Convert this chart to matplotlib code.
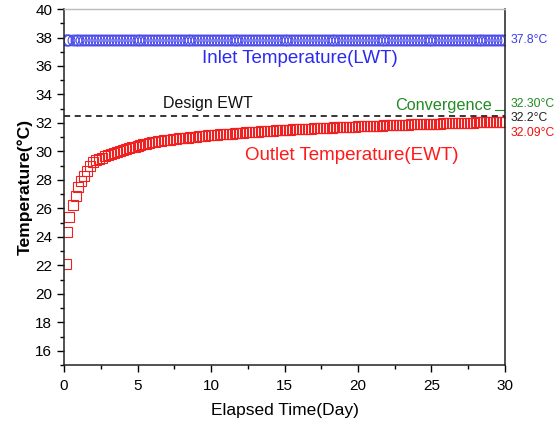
import matplotlib
matplotlib.use("Agg")
import matplotlib.pyplot as plt
from matplotlib.ticker import MultipleLocator

plt.rcParams['font.family'] = ['Liberation Sans', 'DejaVu Sans']

# ---- data ----
time_days = [0.14, 0.22, 0.36, 0.59, 0.80, 0.97, 1.16, 1.34, 1.54, 1.74, 1.95,
             2.2, 2.4, 2.6, 2.8, 3.0, 3.2, 3.4, 3.6, 3.8, 4.0,
             4.2, 4.4, 4.6, 4.8, 5.0, 5.2, 5.4, 5.6, 5.8, 6.0,
             6.2, 6.4, 6.6, 6.8, 7.0, 7.2, 7.4, 7.6, 7.8, 8.0,
             8.2, 8.4, 8.6, 8.8, 9.0, 9.2, 9.4, 9.6, 9.8, 10.0,
             10.2, 10.4, 10.6, 10.8, 11.0, 11.2, 11.4, 11.6, 11.8, 12.0,
             12.2, 12.4, 12.6, 12.8, 13.0, 13.2, 13.4, 13.6, 13.8, 14.0,
             14.2, 14.4, 14.6, 14.8, 15.0, 15.2, 15.4, 15.6, 15.8, 16.0,
             16.2, 16.4, 16.6, 16.8, 17.0, 17.2, 17.4, 17.6, 17.8, 18.0,
             18.2, 18.4, 18.6, 18.8, 19.0, 19.2, 19.4, 19.6, 19.8, 20.0,
             20.2, 20.4, 20.6, 20.8, 21.0, 21.2, 21.4, 21.6, 21.8, 22.0,
             22.2, 22.4, 22.6, 22.8, 23.0, 23.2, 23.4, 23.6, 23.8, 24.0,
             24.2, 24.4, 24.6, 24.8, 25.0, 25.2, 25.4, 25.6, 25.8, 26.0,
             26.2, 26.4, 26.6, 26.8, 27.0, 27.2, 27.4, 27.6, 27.8, 28.0,
             28.2, 28.4, 28.6, 28.8, 29.0, 29.2, 29.4, 29.6, 29.8, 30.0]

outlet_temp = [22.08, 24.35, 25.42, 26.25, 26.90, 27.50, 27.95, 28.30, 28.65, 28.98, 29.25,
               29.38, 29.48, 29.57, 29.66, 29.75, 29.82, 29.89, 29.96, 30.03, 30.10,
               30.16, 30.22, 30.28, 30.34, 30.40, 30.45, 30.50, 30.55, 30.60, 30.64,
               30.68, 30.71, 30.74, 30.77, 30.80, 30.83, 30.86, 30.88, 30.91, 30.93,
               30.95, 30.97, 31.00, 31.02, 31.04, 31.06, 31.08, 31.10, 31.12, 31.14,
               31.16, 31.18, 31.20, 31.21, 31.23, 31.25, 31.26, 31.28, 31.30, 31.31,
               31.33, 31.34, 31.36, 31.37, 31.39, 31.40, 31.41, 31.43, 31.44, 31.45,
               31.47, 31.48, 31.49, 31.50, 31.52, 31.53, 31.54, 31.55, 31.56, 31.57,
               31.58, 31.59, 31.60, 31.61, 31.62, 31.63, 31.64, 31.65, 31.66, 31.67,
               31.68, 31.69, 31.70, 31.71, 31.72, 31.72, 31.73, 31.74, 31.75, 31.76,
               31.77, 31.78, 31.78, 31.79, 31.80, 31.81, 31.82, 31.82, 31.83, 31.84,
               31.85, 31.85, 31.86, 31.87, 31.88, 31.88, 31.89, 31.90, 31.90, 31.91,
               31.92, 31.92, 31.93, 31.94, 31.94, 31.95, 31.96, 31.96, 31.97, 31.98,
               31.98, 31.99, 31.99, 32.00, 32.01, 32.01, 32.02, 32.02, 32.03, 32.04,
               32.04, 32.05, 32.05, 32.06, 32.06, 32.07, 32.07, 32.08, 32.08, 32.09]

inlet_value = 37.8
inlet_temp = [inlet_value] * len(time_days)
design_ewt = 32.5

right_labels = ["37.8°C", "32.30°C", "32.2°C", "32.09°C"]
right_label_y = [37.8, 33.35, 32.35, 31.3]
right_label_colors = ["#3a3aee", "#228b22", "#222222", "#ee1111"]

x_ticks = [0, 5, 10, 15, 20, 25, 30]
y_ticks = [16, 18, 20, 22, 24, 26, 28, 30, 32, 34, 36, 38, 40]

# ---- figure ----
fig = plt.figure(figsize=(5.57, 4.30), dpi=100)
ax = fig.add_axes([0.115, 0.151, 0.7916, 0.828])

ax.plot(time_days, inlet_temp, linestyle='none', marker='o', markersize=7.8,
        markerfacecolor='none', markeredgecolor='#4a4ae8', markeredgewidth=0.8)
ax.plot(time_days, outlet_temp, linestyle='none', marker='s', markersize=7.2,
        markerfacecolor='none', markeredgecolor='#ee2020', markeredgewidth=0.8)
ax.axhline(design_ewt, color='black', linestyle=(0, (4, 3)), linewidth=1.1)

ax.set_xlim(0, 30)
ax.set_ylim(15, 40)
ax.set_xticks(x_ticks)
ax.set_yticks(y_ticks)
ax.xaxis.set_minor_locator(MultipleLocator(2.5))
ax.yaxis.set_minor_locator(MultipleLocator(1))
ax.tick_params(axis='both', which='major', direction='out', length=5, width=1,
               labelsize=11, colors='black')
ax.tick_params(axis='both', which='minor', direction='out', length=3, width=1)
ax.tick_params(axis='x', pad=5)
ax.tick_params(top=False, right=False, which='both')

for s in ['left', 'bottom', 'right']:
    ax.spines[s].set_linewidth(1.1)
    ax.spines[s].set_color('#222222')
ax.spines['top'].set_color('#bbbbbb')
ax.spines['top'].set_linewidth(1.0)

ax.set_xlabel('Elapsed Time(Day)', fontsize=12.5, labelpad=7)
ax.set_ylabel('Temperature(°C)', fontsize=12.6, fontweight='bold', labelpad=2)

ax.text(16.05, 36.5, 'Inlet Temperature(LWT)', color='#2a2af0', fontsize=13.5,
        ha='center', va='center')
ax.text(9.8, 33.4, 'Design EWT', color='#111111', fontsize=11.5,
        ha='center', va='center')
ax.text(19.6, 29.75, 'Outlet Temperature(EWT)', color='#ff1a1a', fontsize=13.5,
        ha='center', va='center')
ax.text(25.8, 33.25, 'Convergence', color='#228b22', fontsize=11.7,
        ha='center', va='center')
ax.plot([29.35, 30.0], [32.92, 32.92], color='#228b22', linewidth=0.8)

for lab, yv, c in zip(right_labels, right_label_y, right_label_colors):
    ax.text(30.35, yv, lab, color=c, fontsize=8.7, ha='left', va='center',
            clip_on=False)

fig.savefig('out.png', dpi=100)
